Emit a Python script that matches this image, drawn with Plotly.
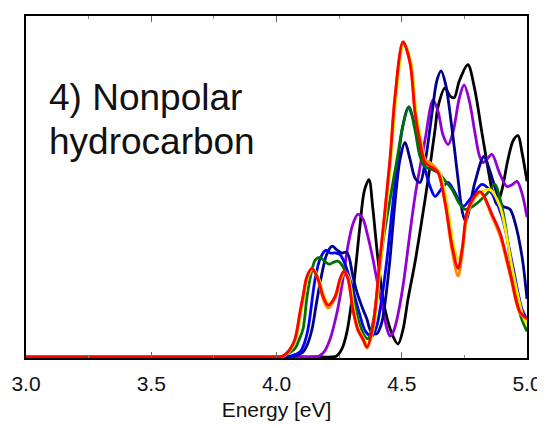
import plotly.graph_objects as go

# ---- data (energy in eV, intensity in arbitrary units) ----
black_E = [3.0, 4.18, 4.22, 4.24, 4.262, 4.281, 4.305, 4.333, 4.35, 4.369, 4.385, 4.405, 4.433, 4.465, 4.485,
           4.505, 4.525, 4.553, 4.58, 4.605, 4.633, 4.645, 4.673, 4.693, 4.709, 4.73, 4.764, 4.79, 4.82, 4.845,
           4.860, 4.880, 4.90, 4.924, 4.945, 4.964, 4.98, 5.0]
black_I = [0, 0, 0, 0.3, 2.5, 7.3, 19.0, 38.3, 48.5, 52.0, 43.3, 28.7, 14.0, 6.1, 3.8,
           8.0, 17.0, 27.8, 40.0, 52.0, 66.7, 73.4, 78.9, 76.5, 76.0, 81.0, 85.7, 79.0, 65.8, 55.0,
           49.1, 44.7, 49.0, 57.9, 63.5, 64.9, 60.0, 51.5]

purple_E = [3.0, 4.10, 4.14, 4.17, 4.19, 4.214, 4.242, 4.261, 4.285, 4.305, 4.325, 4.345, 4.361, 4.385, 4.405,
            4.425, 4.44, 4.453, 4.467, 4.481, 4.505, 4.533, 4.553, 4.593, 4.625, 4.645, 4.665, 4.685, 4.705,
            4.73, 4.749, 4.77, 4.792, 4.81, 4.824, 4.840, 4.860, 4.89, 4.920, 4.94, 4.960, 4.98, 5.0]
purple_I = [0, 0, 0, 0.3, 1.5, 5.3, 13.2, 20.8, 32.5, 39.0, 41.8, 40.5, 36.5, 28.7, 21.0,
            14.0, 8.5, 6.1, 7.5, 11.1, 20.8, 36.5, 47.1, 63.7, 75.4, 72.0, 65.0, 62.3, 66.0,
            76.0, 79.8, 75.0, 65.8, 59.0, 57.0, 58.0, 59.4, 54.0, 50.0, 50.5, 51.5, 48.0, 41.0]

navy_E = [3.0, 4.0, 4.04, 4.07, 4.106, 4.125, 4.142, 4.16, 4.18, 4.20, 4.222, 4.24, 4.26, 4.281, 4.305,
          4.321, 4.345, 4.361, 4.377, 4.40, 4.42, 4.437, 4.453, 4.473, 4.493, 4.513, 4.533, 4.553, 4.573,
          4.595, 4.621, 4.640, 4.657, 4.675, 4.701, 4.725, 4.742, 4.755, 4.792, 4.828, 4.85, 4.884, 4.904,
          4.932, 4.952, 4.98, 5.0]
navy_I = [0, 0, 0, 0.3, 1.5, 4.0, 8.2, 16.0, 24.0, 30.0, 32.5, 31.5, 30.5, 30.7, 23.7,
          19.0, 14.0, 11.1, 7.5, 6.8, 10.0, 18.0, 28.7, 45.3, 57.9, 62.9, 58.0, 52.5, 51.2,
          58.0, 71.6, 81.0, 83.9, 80.0, 66.7, 52.0, 42.5, 39.8, 51.2, 58.8, 55.0, 47.1, 44.2,
          43.3, 39.5, 29.5, 17.0]

blue_E = [3.0, 3.99, 4.03, 4.06, 4.094, 4.11, 4.126, 4.154, 4.175, 4.198, 4.215, 4.235, 4.253, 4.275, 4.30,
          4.33, 4.355, 4.381, 4.40, 4.42, 4.441, 4.463, 4.485, 4.505, 4.525, 4.545, 4.573, 4.593, 4.613,
          4.633, 4.66, 4.685, 4.71, 4.745, 4.78, 4.82, 4.86, 4.90, 4.94, 4.98, 5.0]
blue_I = [0, 0, 0, 0.3, 1.5, 3.8, 8.2, 22.8, 29.0, 31.3, 30.5, 30.5, 30.1, 27.0, 21.0,
          13.0, 7.5, 6.1, 9.0, 17.0, 28.7, 44.0, 57.9, 68.0, 73.1, 70.0, 60.0, 55.0, 50.0,
          47.1, 49.5, 51.2, 48.5, 44.2, 47.0, 50.6, 48.0, 41.2, 27.8, 14.0, 11.1]

green_E = [3.0, 3.97, 4.01, 4.04, 4.074, 4.09, 4.106, 4.122, 4.14, 4.155, 4.174, 4.19, 4.21, 4.228, 4.246,
           4.265, 4.29, 4.31, 4.33, 4.35, 4.365, 4.385, 4.405, 4.425, 4.455, 4.481, 4.505, 4.529, 4.553,
           4.573, 4.593, 4.62, 4.645, 4.675, 4.701, 4.73, 4.753, 4.78, 4.804, 4.844, 4.872, 4.89, 4.912,
           4.932, 4.952, 4.975, 5.0]
green_I = [0, 0, 0, 0.8, 2.5, 5.0, 8.2, 17.8, 25.0, 28.5, 29.2, 28.2, 27.2, 27.8, 28.1,
           26.5, 22.0, 16.0, 10.0, 6.3, 5.3, 10.0, 21.0, 33.6, 47.0, 57.9, 68.0, 73.4, 66.5,
           58.8, 55.8, 55.0, 54.1, 51.5, 49.1, 45.0, 43.3, 44.0, 45.3, 48.2, 50.6, 47.0, 39.5,
           29.0, 19.9, 12.0, 7.5]

yellow_E = [3.0, 3.96, 3.995, 4.030, 4.058, 4.078, 4.098, 4.110, 4.126, 4.146, 4.170, 4.190, 4.210, 4.238,
            4.257, 4.273, 4.289, 4.309, 4.329, 4.349, 4.365, 4.389, 4.417, 4.457, 4.477, 4.509, 4.537,
            4.557, 4.577, 4.597, 4.625, 4.649, 4.677, 4.703, 4.725, 4.745, 4.768, 4.812, 4.852, 4.892,
            4.944, 4.984, 5.0]
yellow_I = [0, 0, 0, 0.3, 2.3, 5.3, 13.2, 17.8, 23.7, 25.8, 22.8, 17.8, 15.5, 17.8,
            22.8, 24.8, 23.0, 14.0, 8.0, 5.3, 3.2, 9.1, 28.7, 57.9, 76.0, 92.0, 86.5,
            72.0, 63.5, 57.0, 56.0, 54.5, 46.5, 34.5, 28.7, 33.0, 44.0, 48.0, 49.1, 44.2,
            24.9, 12.0, 9.5]

red_E = [3.0, 3.955, 3.99, 4.026, 4.054, 4.074, 4.094, 4.106, 4.122, 4.142, 4.166, 4.186, 4.206, 4.234,
         4.253, 4.269, 4.285, 4.305, 4.325, 4.345, 4.361, 4.385, 4.413, 4.453, 4.473, 4.505, 4.533,
         4.553, 4.573, 4.593, 4.621, 4.645, 4.673, 4.701, 4.725, 4.741, 4.764, 4.812, 4.864, 4.892,
         4.932, 4.972, 5.0]
red_I = [0, 0, 0, 0.3, 2.3, 5.3, 13.2, 17.8, 23.7, 26.0, 22.8, 17.8, 15.2, 17.8,
         22.8, 25.1, 23.0, 14.0, 8.0, 5.3, 2.9, 9.1, 28.7, 57.9, 76.3, 92.4, 86.3,
         71.6, 62.9, 57.0, 55.6, 54.1, 45.3, 32.5, 26.0, 31.6, 43.3, 48.5, 41.2, 36.5,
         24.9, 13.2, 11.3]

orange_E = red_E
orange_I = [0, 0, 0, 0.3, 2.3, 5.3, 13.2, 17.8, 23.7, 26.0, 22.5, 17.0, 14.3, 17.3,
            22.5, 25.1, 23.0, 13.8, 7.8, 5.0, 2.6, 9.1, 28.7, 57.9, 76.3, 92.4, 86.3,
            71.6, 63.5, 58.0, 56.6, 54.3, 45.0, 31.0, 23.7, 30.0, 42.5, 48.3, 40.5, 35.5,
            24.2, 12.8, 11.0]

series = [
    ("black", black_E, black_I, "#000000"),
    ("purple", purple_E, purple_I, "#9400D3"),
    ("navy", navy_E, navy_I, "#00008B"),
    ("blue", blue_E, blue_I, "#0000FF"),
    ("green", green_E, green_I, "#007000"),
    ("yellow", yellow_E, yellow_I, "#FFE800"),
    ("orange", orange_E, orange_I, "#FF8C00"),
    ("red", red_E, red_I, "#FF0000"),
]

x_ticks = [3.0, 3.5, 4.0, 4.5, 5.0]
x_tick_labels = ["3.0", "3.5", "4.0", "4.5", "5.0"]

fig = go.Figure()
for name, xs, ys, col in series:
    fig.add_trace(go.Scatter(x=xs, y=ys, mode="lines", name=name,
                             line=dict(color=col, width=2.8, shape="spline", smoothing=0.9),
                             showlegend=False, hoverinfo="skip"))

font_family = "Liberation Sans, Arial, Helvetica, sans-serif"

# the page body adds an 8 px offset, so the figure is sized to the remaining window
fig.update_layout(
    width=537, height=421,
    margin=dict(l=18, r=18, t=8, b=71),
    paper_bgcolor="white", plot_bgcolor="white",
    font=dict(family=font_family, color="#111111"),
    xaxis=dict(range=[3.0, 5.0], tickvals=x_ticks, ticktext=x_tick_labels,
               automargin=False,
               ticks="inside", ticklen=6, tickwidth=1, tickcolor="#666666",
               minor=dict(dtick=0.25, ticks="inside", ticklen=3, tickcolor="#888888"),
               showline=True, linecolor="black", linewidth=1.5, mirror="ticks",
               showgrid=False, zeroline=False,
               tickfont=dict(size=21, family=font_family, color="#111111"),
               ticklabelstandoff=6,
               title=dict(text="Energy [eV]", font=dict(size=21, family=font_family, color="#111111"),
                          standoff=8)),
    yaxis=dict(range=[-0.3, 100], showticklabels=False, ticks="", automargin=False,
               showline=True, linecolor="black", linewidth=1.5, mirror=True,
               showgrid=False, zeroline=False),
    annotations=[
        dict(text="4) Nonpolar", xref="paper", yref="paper", x=0.042, y=0.762,
             xanchor="left", yanchor="middle", showarrow=False,
             font=dict(size=37, family=font_family, color="#111111")),
        dict(text="hydrocarbon", xref="paper", yref="paper", x=0.042, y=0.633,
             xanchor="left", yanchor="middle", showarrow=False,
             font=dict(size=37, family=font_family, color="#111111")),
    ],
)

fig.write_html("out.html")
